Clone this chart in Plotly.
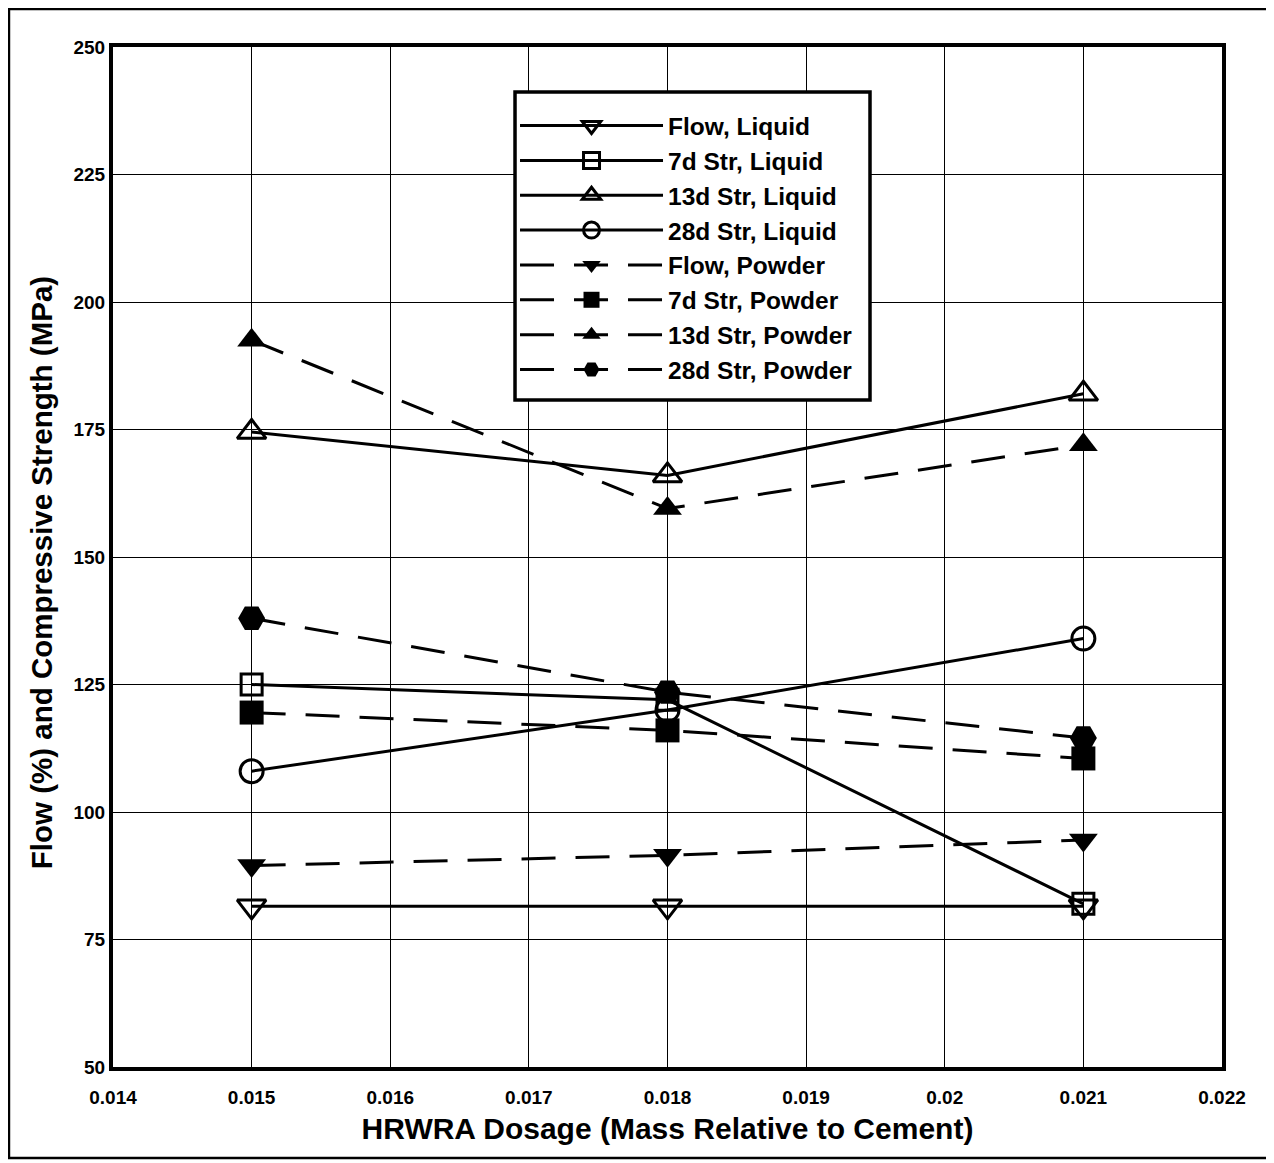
import plotly.graph_objects as go

dosage = [0.015, 0.018, 0.021]

flow_liquid = [81.5, 81.5, 81.5]
str7_liquid = [125, 122, 82]
str13_liquid = [174.5, 166, 182]
str28_liquid = [108, 120, 134]
flow_powder = [89.5, 91.5, 94.5]
str7_powder = [119.5, 116, 110.5]
str13_powder = [192.5, 159.5, 172]
str28_powder = [138, 123.5, 114.5]

names = ["Flow, Liquid", "7d Str, Liquid", "13d Str, Liquid", "28d Str, Liquid",
         "Flow, Powder", "7d Str, Powder", "13d Str, Powder", "28d Str, Powder"]
series = [flow_liquid, str7_liquid, str13_liquid, str28_liquid,
          flow_powder, str7_powder, str13_powder, str28_powder]
symbols = ["triangle-down-open", "square-open", "triangle-up-open", "circle-open",
           "triangle-down", "square", "triangle-up", "hexagon2"]
sizes = [25, 21, 25, 23, 25, 24, 25, 27]
dashes = ["solid"] * 4 + ["34px,20px"] * 4

x_ticks = [0.014, 0.015, 0.016, 0.017, 0.018, 0.019, 0.02, 0.021, 0.022]
x_ticktext = ["0.014", "0.015", "0.016", "0.017", "0.018", "0.019", "0.02", "0.021", "0.022"]
y_ticks = [50, 75, 100, 125, 150, 175, 200, 225, 250]

FONT = "Liberation Sans"

fig = go.Figure()
for i, (nm, ys, sym, sz, dsh) in enumerate(zip(names, series, symbols, sizes, dashes)):
    fig.add_trace(go.Scatter(
        x=dosage, y=ys, name=nm, mode="lines+markers",
        legendgroup=f"g{i}",
        line=dict(color="black", width=3, dash=dsh),
        marker=dict(symbol=sym, size=sz, color="black",
                    line=dict(color="black", width=3 if "open" in sym else 0)),
    ))

fig.update_layout(
    width=1266, height=1155,
    margin=dict(l=105, r=52, t=39, b=96),
    paper_bgcolor="white", plot_bgcolor="white",
    font=dict(family=FONT, color="black", size=19, weight=700),
    showlegend=True,
    legend=dict(
        x=0.3625, y=0.945, xanchor="left", yanchor="top",
        bgcolor="rgba(0,0,0,0)", borderwidth=0,
        font=dict(family=FONT, size=24.5, color="black", weight=700),
        itemwidth=143, tracegroupgap=0,
    ),
    xaxis=dict(
        range=[0.014, 0.022], tickvals=x_ticks, ticktext=x_ticktext,
        showgrid=True, gridcolor="black", gridwidth=1.3,
        showline=True, linecolor="black", linewidth=4, mirror=True,
        ticks="", zeroline=False, ticklabelstandoff=10,
        tickfont=dict(family=FONT, size=19, weight=700),
        title=dict(text="HRWRA Dosage (Mass Relative to Cement)",
                   font=dict(family=FONT, size=30, weight=700), standoff=12),
    ),
    yaxis=dict(
        range=[50, 250], tickvals=y_ticks,
        showgrid=True, gridcolor="black", gridwidth=1.3,
        showline=True, linecolor="black", linewidth=4, mirror=True,
        ticks="", zeroline=False,
        tickfont=dict(family=FONT, size=19, weight=700),
    ),
    annotations=[dict(text="Flow (%) and Compressive Strength (MPa)",
                      xref="paper", yref="paper", x=-0.065, y=0.485,
                      xanchor="center", yanchor="middle", textangle=-90,
                      showarrow=False,
                      font=dict(family=FONT, size=29.5, weight=700, color="black"))],
    shapes=[
        dict(type="rect", xref="paper", yref="paper",
             x0=-0.0938, x1=1.0415, y0=-0.0892, y1=1.0373,
             line=dict(color="black", width=2.5), fillcolor="rgba(0,0,0,0)",
             layer="below"),
        dict(type="rect", xref="paper", yref="paper",
             x0=0.3625, x1=0.6826, y0=0.6539, y1=0.9559,
             line=dict(color="black", width=3.5), fillcolor="white",
             layer="above"),
    ],
)

fig.write_html("out.html")
